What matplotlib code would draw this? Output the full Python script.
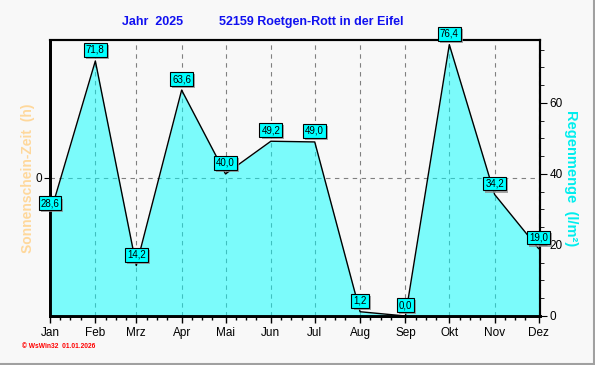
import numpy as np
import matplotlib
matplotlib.use("Agg")
from matplotlib import pyplot as plt
from matplotlib.lines import Line2D
from matplotlib.ticker import FixedLocator, MultipleLocator
import matplotlib.patheffects as pe

plt.rcParams['font.family'] = ['Liberation Sans', 'DejaVu Sans']

months = ['Jan', 'Feb', 'Mrz', 'Apr', 'Mai', 'Jun', 'Jul', 'Aug', 'Sep', 'Okt', 'Nov', 'Dez']
month_start = [0, 31, 59, 90, 120, 151, 181, 212, 243, 273, 304, 334]  # Tag im Jahr
rain = [28.6, 71.8, 14.2, 63.6, 40.0, 49.2, 49.0, 1.2, 0.0, 76.4, 34.2, 19.0]
rain_labels = ['28,6', '71,8', '14,2', '63,6', '40,0', '49,2', '49,0', '1,2', '0,0', '76,4', '34,2', '19,0']

bg = '#F8F8F8'
fig = plt.figure(figsize=(5.95, 3.65), dpi=100, facecolor=bg)
ax = fig.add_axes([50/595, 1-316/365, 490/595, 276/365])
ax.set_facecolor(bg)
ax2 = ax.twinx()

x = np.array(month_start)
y = np.array(rain)

# Sonnenschein-Achse (links), keine Daten
ax.set_xlim(0, 335)
ax.set_ylim(-1, 1)
ax.set_yticks([0])
ax.set_yticklabels(['0'])
ax.xaxis.set_major_locator(FixedLocator(month_start))
ax.set_xticklabels(months)
minor = [m + d for m in month_start[:-1] for d in (7, 14, 21)]
ax.xaxis.set_minor_locator(FixedLocator(minor))
ax.grid(True, which='major', axis='both', color='#808080', linestyle=(0, (4, 4)), linewidth=0.8)
ax.tick_params(axis='x', which='major', length=5, width=1, labelsize=8.5, pad=3)
ax.tick_params(axis='x', which='minor', length=3, width=1)
ax.tick_params(axis='y', length=4, labelsize=8.5, pad=2)
ax.set_ylabel('Sonnenschein-Zeit  (h)', color='#FFD89C', fontsize=10, fontweight='bold', labelpad=0)

# Regen-Achse (rechts)
ax2.set_ylim(0, 77.7)
ax2.yaxis.set_major_locator(MultipleLocator(20))
ax2.yaxis.set_minor_locator(MultipleLocator(5))
ax2.tick_params(axis='y', which='major', length=5, labelsize=8.5, pad=2)
ax2.tick_params(axis='y', which='minor', length=3)
ax2.set_ylabel('Regenmenge  (l/m²)', color='#00EEEE', fontsize=10.5, fontweight='bold',
               rotation=-90, labelpad=11)

ax2.fill_between(x, y, 0, color='#00FFFF', alpha=0.5, linewidth=0)
ax2.plot(x, y, color='black', linewidth=1)

for xi, yi, lab in zip(x, y, rain_labels):
    t = ax2.annotate(lab, (xi, yi), xytext=(0, 11), textcoords='offset pixels',
                     ha='center', va='center', fontsize=7, color='black',
                     bbox=dict(boxstyle='square,pad=0.2', fc='#00FFFF', ec='black', lw=0.8),
                     annotation_clip=False, zorder=6)
    t.get_bbox_patch().set_path_effects([
        pe.SimplePatchShadow(offset=(1.5, -1.5), shadow_rgbFace='#909090', alpha=0.8),
        pe.Normal()])

for a in (ax, ax2):
    for s in a.spines.values():
        s.set_color('black')
        s.set_linewidth(1.5)
    a.spines['left'].set_linewidth(2)
    a.spines['bottom'].set_linewidth(2)

fig.text(153/595, 1-22/365, 'Jahr  2025', color='#1010F0', fontsize=9, fontweight='bold',
         ha='center', va='center')
fig.text(311/595, 1-22/365, '52159 Roetgen-Rott in der Eifel', color='#1010F0', fontsize=9,
         fontweight='bold', ha='center', va='center')
fig.text(22/595, 1-346/365, '© WsWin32  01.01.2026', color='#FF0000', fontsize=4.8,
         fontweight='bold', ha='left', va='center')

# Rahmen rechts/unten
fig.add_artist(Line2D([0, 1], [1/365, 1/365], color='#A0A0A0', lw=1.5, transform=fig.transFigure))
fig.add_artist(Line2D([1-1/595, 1-1/595], [0, 1], color='#A0A0A0', lw=1.5, transform=fig.transFigure))

fig.savefig('out.png', dpi=100, facecolor=bg)
